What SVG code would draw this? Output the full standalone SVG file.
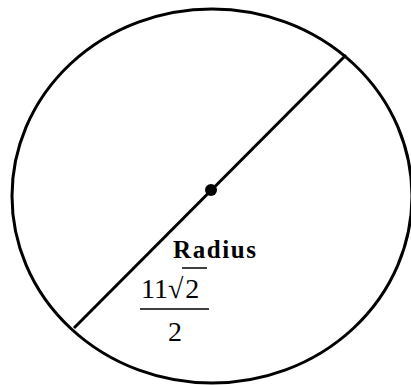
<svg xmlns="http://www.w3.org/2000/svg" width="411" height="385" viewBox="0 0 411 385">
<style>
.outline{fill:none;stroke:#000;stroke-width:3}
.serif{font-family:"Liberation Serif","Times New Roman",serif;fill:#000}
.bold{font-weight:bold}
</style>
<rect width="411" height="385" fill="#fff"/>
<g id="circle">
<ellipse class="outline" cx="212" cy="196" rx="200" ry="187"/>
</g>
<g id="connectors">
<line class="outline" x1="74" y1="328" x2="346" y2="55"/>
</g>
<g id="center">
<circle cx="211" cy="190" r="6" fill="#000"/>
</g>
<g id="label">
<text class="serif bold" x="173" y="258" font-size="25" textLength="83" lengthAdjust="spacing">Radius</text>
<text class="serif" x="141" y="298" font-size="28">11√<tspan dx="2">2</tspan></text>
<line x1="182" y1="268" x2="207" y2="268" stroke="#000" stroke-width="1.5"/>
<line x1="140" y1="309" x2="209" y2="309" stroke="#000" stroke-width="1.5"/>
<text class="serif" x="168" y="341" font-size="28">2</text>
</g>
</svg>
